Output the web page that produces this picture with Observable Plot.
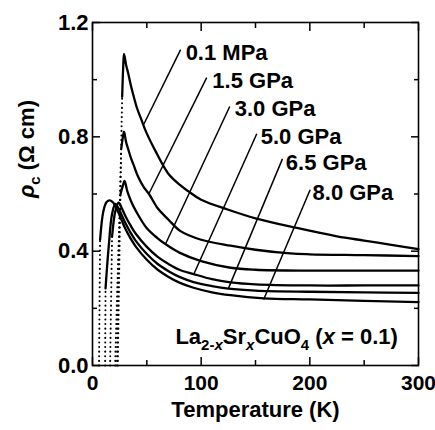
<!DOCTYPE html>
<html><head><meta charset="utf-8">
<script src="https://cdn.jsdelivr.net/npm/d3@7"></script>
<script src="https://cdn.jsdelivr.net/npm/@observablehq/plot@0.6"></script>
<style>
body{margin:0;background:#fff}
#chart svg{font-family:"Liberation Sans",Arial,Helvetica,sans-serif;background:#fff}
</style>
</head><body><div id="chart"></div>
<script>
// Pressure series (labels)
const pressures = ["0.1 MPa","1.5 GPa","3.0 GPa","5.0 GPa","6.5 GPa","8.0 GPa"];

// Solid parts of the curves: [T (K), rho_c (Ohm cm)]
const solid01 = [[27.3,0.94],[28.2,1.04],[29,1.09],[31,1.05],[33,1.02],[35,0.985],[38,0.94],[41,0.9],[45,0.86],[49,0.82],[58,0.75],[70,0.67],[81,0.63],[88,0.61],[100,0.58],[125,0.545],[150,0.515],[187,0.482],[225,0.452],[250,0.437],[275,0.422],[300,0.407]];
const solid15 = [[26.5,0.76],[28,0.8],[29,0.818],[31,0.78],[33,0.755],[35,0.73],[38,0.7],[42,0.66],[47,0.625],[52,0.6],[60,0.55],[70,0.51],[81,0.47],[100,0.44],[127,0.419],[150,0.405],[182,0.392],[200,0.389],[250,0.386],[300,0.383]];
const solid30 = [[25.8,0.6],[28,0.63],[29.5,0.646],[32,0.61],[36,0.57],[40,0.54],[50,0.48],[60,0.445],[67,0.425],[80,0.395],[100,0.365],[127,0.342],[150,0.335],[200,0.332],[250,0.332],[300,0.332]];
const solid50 = [[18,0.45],[21,0.54],[24,0.57],[27,0.55],[30,0.525],[35,0.49],[40,0.46],[50,0.415],[60,0.38],[70,0.355],[80,0.335],[93,0.32],[110,0.302],[127,0.291],[150,0.284],[200,0.28],[250,0.28],[300,0.28]];
const solid65 = [[12,0.27],[15,0.42],[18,0.53],[21,0.565],[24,0.55],[27,0.525],[30,0.5],[35,0.465],[40,0.435],[50,0.39],[60,0.355],[70,0.33],[80,0.31],[93,0.292],[110,0.278],[125,0.269],[150,0.262],[200,0.258],[250,0.256],[300,0.254]];
const solid80 = [[7,0.44],[10,0.54],[13,0.572],[16,0.578],[19,0.57],[22,0.55],[25,0.525],[30,0.48],[35,0.445],[40,0.415],[50,0.37],[60,0.335],[70,0.31],[80,0.29],[93,0.272],[110,0.256],[127,0.246],[157.5,0.235],[200,0.231],[250,0.226],[300,0.222]];

// Dotted (superconducting drop) parts
const dot01 = [[23.3,0],[24.5,0.3],[25.8,0.66],[27.3,0.94]];
const dot15 = [[22.5,0],[24,0.4],[26.5,0.76]];
const dot30 = [[20.8,0],[23,0.3],[25.8,0.6]];
const dot50 = [[16.2,0],[17,0.2],[18,0.45]];
const dot65 = [[11.6,0],[12,0.27]];
const dot80 = [[6,0],[7,0.44]];

// Label anchors and leader lines (data units)
const labelT = [85.7,110.3,130.9,154.8,177.9,202.5];
const labelR = [1.092,0.997,0.898,0.799,0.710,0.605];
const leadT1 = [81.1,105.1,126.3,151.2,174.8,200.3];
const leadR1 = [1.105,1.007,0.906,0.811,0.723,0.615];
const leadT2 = [47.2,51.8,67.2,93.3,125,157.5];
const leadR2 = [0.844,0.600,0.425,0.320,0.269,0.231];

const xMajor = [0,100,200,300], xMinor = [50,150,250];
const yMajor = [0,0.4,0.8,1.2], yMinor = [0.2,0.6,1.0];

const solids = [solid01,solid15,solid30,solid50,solid65,solid80];
const dots = [dot01,dot15,dot30,dot50,dot65,dot80];
const solidRows = solids.flatMap((s,i)=>s.map(([T,r])=>({p:pressures[i],T,r})));
const dotRows = dots.flatMap((s,i)=>s.map(([T,r])=>({p:pressures[i],T,r})));

const FS = 22;
const tickOpts = {fill:"none", label:null, strokeWidth:1.5};

const chart = Plot.plot({
  width:435, height:430,
  marginLeft:92, marginRight:17, marginTop:22, marginBottom:65,
  x:{domain:[0,300], axis:null},
  y:{domain:[0,1.2], axis:null},
  style:{fontFamily:'"Liberation Sans",Arial,sans-serif', color:"black", background:"white"},
  marks:[
    Plot.line(dotRows,{x:"T",y:"r",z:"p",stroke:"black",strokeWidth:2,strokeDasharray:"0.1,4.5",strokeLinecap:"round"}),
    Plot.line(solidRows,{x:"T",y:"r",z:"p",stroke:"black",strokeWidth:2.3,curve:"catmull-rom"}),
    Plot.link(pressures,{x1:leadT1,y1:leadR1,x2:leadT2,y2:leadR2,stroke:"black",strokeWidth:1.5}),
    Plot.text(pressures,{x:labelT,y:labelR,text:d=>d,textAnchor:"start",fontSize:FS,fontWeight:"bold",fill:"black"}),
    Plot.text(["La2-xSrxCuO4 (x = 0.1)"],{x:[76.3],y:[0.101],text:d=>d,textAnchor:"start",fontSize:FS,fontWeight:"bold",fill:"black"}),
    Plot.axisX(xMajor,{anchor:"bottom",tickSize:-8,...tickOpts}),
    Plot.axisX(xMinor,{anchor:"bottom",tickSize:-5,...tickOpts}),
    Plot.axisX(xMajor,{anchor:"top",tickSize:-8,...tickOpts}),
    Plot.axisX(xMinor,{anchor:"top",tickSize:-5,...tickOpts}),
    Plot.axisY(yMajor,{anchor:"left",tickSize:-8,...tickOpts}),
    Plot.axisY(yMinor,{anchor:"left",tickSize:-5,...tickOpts}),
    Plot.axisY(yMajor,{anchor:"right",tickSize:-8,...tickOpts}),
    Plot.axisY(yMinor,{anchor:"right",tickSize:-5,...tickOpts}),
    Plot.axisX(xMajor,{anchor:"bottom",tickSize:0,tickPadding:10,fontSize:21,fontWeight:"bold",label:null,tickFormat:d3.format("d")}),
    Plot.axisY(yMajor,{anchor:"left",tickSize:0,tickPadding:4,fontSize:FS,fontWeight:"bold",label:null,tickFormat:d3.format(".1f")}),
    Plot.text(["Temperature (K)"],{frameAnchor:"bottom",dy:51,text:d=>d,fontSize:FS,fontWeight:"bold",fill:"black"}),
    Plot.text(["ρc (Ω cm)"],{frameAnchor:"left",dx:-66,dy:4,rotate:-90,text:d=>d,fontSize:FS,fontWeight:"bold",fill:"black"}),
    Plot.frame({stroke:"black",strokeWidth:1.6})
  ]
});
document.getElementById("chart").appendChild(chart);

// Rich text: subscripts / italics
function rich(match, segs, shift, subSize){
  d3.select(chart).selectAll("text").filter(function(){return this.textContent===match;}).each(function(){
    const t = d3.select(this); t.text("");
    let inSub=false;
    segs.forEach(s=>{
      const ts = t.append("tspan").text(s.t);
      if(s.sub && !inSub){ts.attr("dy",shift); inSub=true;}
      else if(!s.sub && inSub){ts.attr("dy",-shift); inSub=false;}
      if(s.sub) ts.attr("font-size",subSize);
      if(s.it) ts.attr("font-style","italic");
    });
  });
}
rich("La2-xSrxCuO4 (x = 0.1)",[{t:"La"},{t:"2-",sub:1},{t:"x",sub:1,it:1},{t:"Sr"},{t:"x",sub:1,it:1},{t:"CuO"},{t:"4",sub:1},{t:" ("},{t:"x",it:1},{t:" = 0.1)"}],6,15);
rich("ρc (Ω cm)",[{t:"ρ",it:1},{t:"c",sub:1},{t:" (Ω cm)"}],6,15);
</script>
</body></html>
